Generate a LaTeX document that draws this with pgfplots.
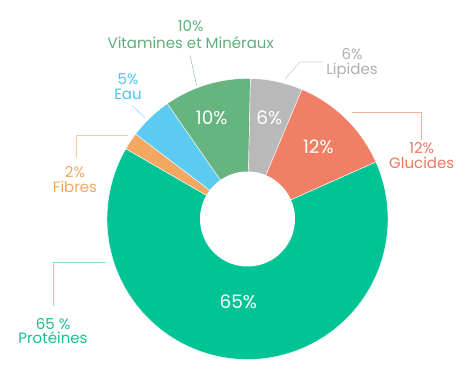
\documentclass[border=0pt]{standalone}
\usepackage{pgfplots}
\pgfplotsset{compat=1.18}
\usepackage{fontspec}
\setmainfont{Poppins}
\definecolor{cProt}{HTML}{00C496}
\definecolor{cGluc}{HTML}{F17F66}
\definecolor{cLip}{HTML}{B9B9B9}
\definecolor{cVit}{HTML}{66B47F}
\definecolor{cEau}{HTML}{5CCBF1}
\definecolor{cFib}{HTML}{F2A860}
\definecolor{tProt}{HTML}{17BD94}
\definecolor{tGluc}{HTML}{EA775F}
\definecolor{tLip}{HTML}{AEAEAE}
\definecolor{tVit}{HTML}{5FAE7A}
\definecolor{tEau}{HTML}{4CC4F0}
\definecolor{tFib}{HTML}{F0A85C}
\newcommand\pct{\fontsize{15}{15}\selectfont}
\newcommand\nam{\fontsize{15}{15}\selectfont}
\newcommand\ins{\fontsize{18.5}{18.5}\selectfont}
\begin{document}
\begin{tikzpicture}
\begin{axis}[width=474pt,height=379pt,scale only axis,xmin=0,xmax=474,ymin=0,ymax=379,
  axis lines=none,clip=false]
\def\cx{247.5}\def\cy{160}\def\R{140.5}\def\S{24}
% Proteines 65
\addplot[fill=cProt,draw=white,line width=0.4pt,domain={\S-3.6*65}:{\S},samples=150,variable=\t]
  ({\cx+\R*cos(\t)},{\cy+\R*sin(\t)}) -- (axis cs:\cx,\cy) -- cycle;
% Fibres 2
\addplot[fill=cFib,draw=white,line width=0.4pt,domain={\S-3.6*67}:{\S-3.6*65},samples=10,variable=\t]
  ({\cx+\R*cos(\t)},{\cy+\R*sin(\t)}) -- (axis cs:\cx,\cy) -- cycle;
% Eau 5
\addplot[fill=cEau,draw=white,line width=0.4pt,domain={\S-3.6*72}:{\S-3.6*67},samples=15,variable=\t]
  ({\cx+\R*cos(\t)},{\cy+\R*sin(\t)}) -- (axis cs:\cx,\cy) -- cycle;
% Vitamines 10
\addplot[fill=cVit,draw=white,line width=0.4pt,domain={\S-3.6*82}:{\S-3.6*72},samples=30,variable=\t]
  ({\cx+\R*cos(\t)},{\cy+\R*sin(\t)}) -- (axis cs:\cx,\cy) -- cycle;
% Lipides 6
\addplot[fill=cLip,draw=white,line width=0.4pt,domain={\S-3.6*88}:{\S-3.6*82},samples=20,variable=\t]
  ({\cx+\R*cos(\t)},{\cy+\R*sin(\t)}) -- (axis cs:\cx,\cy) -- cycle;
% Glucides 12
\addplot[fill=cGluc,draw=white,line width=0.4pt,domain={\S-3.6*100}:{\S-3.6*88},samples=30,variable=\t]
  ({\cx+\R*cos(\t)},{\cy+\R*sin(\t)}) -- (axis cs:\cx,\cy) -- cycle;
% hole
\addplot[fill=white,draw=none,domain=0:360,samples=90,variable=\t]
  ({\cx+47.5*cos(\t)},{\cy+47.5*sin(\t)}) -- cycle;
% inside labels
\node[anchor=base,white] at (axis cs:211.7,254.7) {\ins 10\%};
\node[anchor=base,white] at (axis cs:269.3,254.7) {\ins 6\%};
\node[anchor=base,white] at (axis cs:318.3,225.7) {\ins 12\%};
\node[anchor=base,white] at (axis cs:238.3,70.7) {\ins 65\%};
% outside labels
\node[anchor=base,tVit] at (axis cs:190.7,347.3) {\pct 10\%};
\node[anchor=base,tVit] at (axis cs:190.7,330.7) {\nam Vitamines et Minéraux};
\draw[tVit!60,line width=0.6pt] (axis cs:190,324) -- (axis cs:196.5,294);
\node[anchor=base,tEau] at (axis cs:128,294) {\pct 5\%};
\node[anchor=base,tEau] at (axis cs:128,279.7) {\nam Eau};
\draw[tEau!60,line width=0.6pt] (axis cs:131.7,274) -- (axis cs:145,261);
\node[anchor=base,tLip] at (axis cs:352,319.7) {\pct 6\%};
\node[anchor=base,tLip] at (axis cs:352,304) {\nam Lipides};
\draw[tLip!60,line width=0.6pt] (axis cs:285,300) -- (axis cs:300,317) -- (axis cs:323,317);
\node[anchor=base,tGluc] at (axis cs:421.7,225.7) {\pct 12\%};
\node[anchor=base,tGluc] at (axis cs:421.7,210.7) {\nam Glucides};
\draw[tGluc!60,line width=0.6pt] (axis cs:351.7,266.3) -- (axis cs:421.7,266.3) -- (axis cs:421.7,239);
\node[anchor=base,tFib] at (axis cs:75,201.7) {\pct 2\%};
\node[anchor=base,tFib] at (axis cs:75,186.3) {\nam Fibres};
\draw[tFib!60,line width=0.6pt] (axis cs:128,243.3) -- (axis cs:76,243.3) -- (axis cs:76,221);
\node[anchor=base,tProt] at (axis cs:53,49.7) {\pct 65 \%};
\node[anchor=base,tProt] at (axis cs:53,35) {\nam Protéines};
\draw[tProt!50,line width=0.6pt] (axis cs:106,116.3) -- (axis cs:53,116.3) -- (axis cs:53,73);
\path (axis cs:0,0) (axis cs:474,379);
\end{axis}
\end{tikzpicture}
\end{document}
